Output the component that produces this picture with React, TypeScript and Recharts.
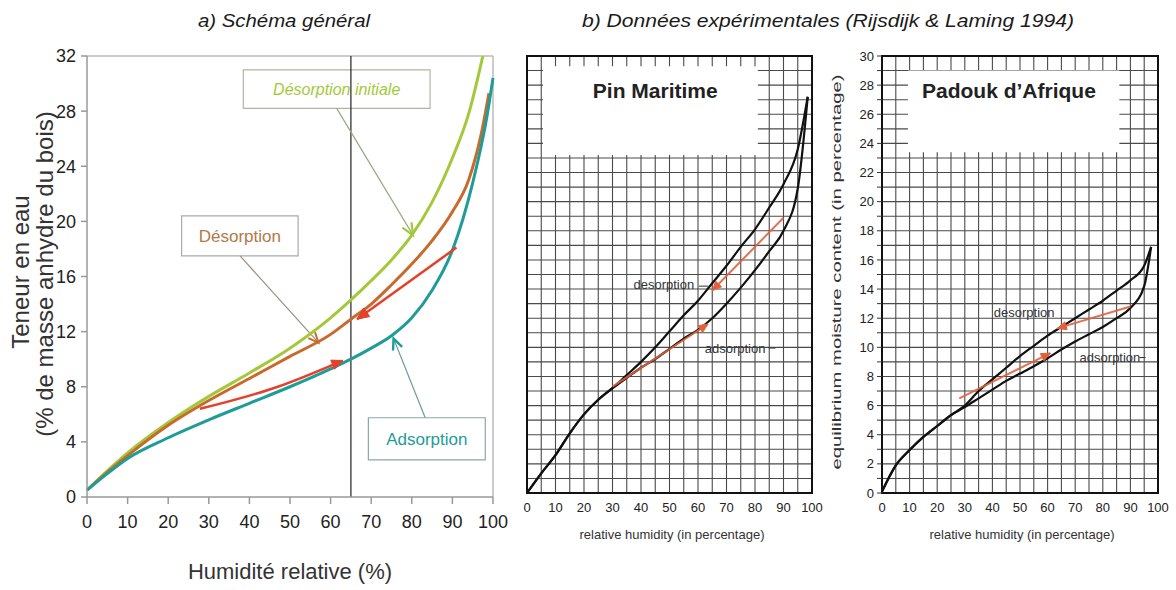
import React from 'react';
import {
  LineChart,
  Line,
  XAxis,
  YAxis,
  CartesianGrid,
  ReferenceLine,
  ReferenceArea,
  ReferenceDot,
} from 'recharts';

type Pt = { x: number; y: number };
const pts = (rows: number[][]): Pt[] => rows.map(([x, y]) => ({ x, y }));

const SANS = 'Arial, "Liberation Sans", sans-serif';
const NARROW = '"Liberation Sans Narrow", "Arial Narrow", "Liberation Sans", sans-serif';

// ---- a) Schéma général
const RH_TICKS = [0, 10, 20, 30, 40, 50, 60, 70, 80, 90, 100];
const MC_TICKS_A = [0, 4, 8, 12, 16, 20, 24, 28, 32];

const desorptionInitiale = pts([
  [0, 0.5], [5, 1.9], [10, 3.2], [20, 5.4], [30, 7.3], [40, 9.0], [50, 10.8], [60, 13.0],
  [65, 14.3], [70, 15.7], [75, 17.2], [80, 19.0], [85, 21.4], [90, 24.6], [94, 27.8], [97.5, 32],
]);
const desorption = pts([
  [0, 0.5], [5, 1.8], [10, 3.0], [20, 5.2], [30, 7.0], [40, 8.6], [50, 10.2], [60, 11.8],
  [65, 12.9], [70, 14.0], [75, 15.4], [80, 16.9], [85, 18.6], [90, 20.7], [94, 23.0], [97, 26.2], [99, 29.3],
]);
const adsorption = pts([
  [0, 0.5], [5, 1.7], [10, 2.8], [20, 4.3], [30, 5.6], [40, 6.8], [50, 8.0], [60, 9.3],
  [65, 10.0], [70, 10.8], [75, 11.7], [80, 13.0], [85, 15.0], [90, 17.9], [95, 22.8], [98.5, 27.6], [100, 30.4],
]);
const redDesorptionA = pts([[91, 18.1], [66.5, 12.9]]);
const redAdsorptionA = pts([[27.8, 6.4], [47, 8.0], [63, 9.9]]);
const pointerInitiale = pts([[61.5, 28.2], [80.3, 19.0]]);
const pointerDesorption = pts([[37.7, 17.5], [57, 11.2]]);
const pointerAdsorption = pts([[83.3, 5.75], [75.5, 11.5]]);

// ---- b) Rijsdijk & Laming 1994
const RH_GRID = [0, 5, 10, 15, 20, 25, 30, 35, 40, 45, 50, 55, 60, 65, 70, 75, 80, 85, 90, 95, 100];
const MC_GRID = Array.from({ length: 31 }, (_, i) => i);

const pinDesorption = pts([
  [0, 0], [5, 1.35], [10, 2.6], [15, 4.1], [20, 5.4], [25, 6.4], [30, 7.2], [35, 8.1], [40, 9.0],
  [45, 10.0], [50, 11.1], [55, 12.2], [60, 13.2], [65, 14.4], [70, 15.6], [75, 16.9], [80, 18.1],
  [85, 19.6], [90, 21.2], [95, 23.6], [98.5, 27.2],
]);
const pinAdsorption = pts([
  [0, 0], [5, 1.35], [10, 2.6], [15, 4.1], [20, 5.4], [25, 6.4], [30, 7.2], [35, 7.9], [40, 8.6],
  [45, 9.2], [50, 9.9], [55, 10.6], [60, 11.2], [65, 12.0], [70, 13.0], [75, 14.1], [80, 15.3],
  [85, 16.6], [90, 18.0], [95, 20.9], [98.5, 27.2],
]);
const pinRedDesorption = pts([[90, 18.9], [65, 13.9]]);
const pinRedAdsorption = pts([[30, 7.3], [63.5, 11.6]]);
const pinDashDes = pts([[60.3, 14.2], [63.6, 14.2]]);
const pinDashAds = pts([[84.8, 9.95], [87.2, 9.95]]);

const padDesorption = pts([
  [0, 0.1], [5, 1.9], [10, 2.95], [15, 3.85], [20, 4.6], [25, 5.35], [30, 6.0], [35, 7.0], [40, 7.8],
  [45, 8.6], [50, 9.4], [55, 10.1], [60, 10.8], [65, 11.4], [70, 12.0], [75, 12.6], [80, 13.2],
  [85, 13.9], [90, 14.6], [95, 15.6], [97.5, 16.9],
]);
const padAdsorption = pts([
  [0, 0.1], [5, 1.9], [10, 2.95], [15, 3.85], [20, 4.6], [25, 5.35], [30, 5.9], [35, 6.5], [40, 7.1],
  [45, 7.7], [50, 8.2], [55, 8.7], [60, 9.25], [65, 9.85], [70, 10.4], [75, 10.9], [80, 11.4],
  [85, 12.0], [90, 12.7], [95, 14.2], [97.5, 16.9],
]);
const padRedDesorption = pts([[90, 12.8], [63.5, 11.3]]);
const padRedAdsorption = pts([[28, 6.5], [61, 9.6]]);
const padDashAds = pts([[93.3, 9.3], [95.5, 9.3]]);

// arrow head drawn on the last point of a series, oriented along the last segment
function arrowHead(color: string, size: number, open: boolean, width = 2) {
  return (props: any) => {
    const { cx, cy, index, points } = props;
    if (!points || index !== points.length - 1 || index === 0) return <g key={`ah-${index}`} />;
    const p = points[index - 1];
    const a = Math.atan2(cy - p.y, cx - p.x);
    const w = 0.42;
    const x1 = cx - size * Math.cos(a - w);
    const y1 = cy - size * Math.sin(a - w);
    const x2 = cx - size * Math.cos(a + w);
    const y2 = cy - size * Math.sin(a + w);
    return open ? (
      <path key={`ah-${index}`} d={`M${x1},${y1}L${cx},${cy}L${x2},${y2}`} fill="none" stroke={color} strokeWidth={width} />
    ) : (
      <path key={`ah-${index}`} d={`M${x1},${y1}L${cx},${cy}L${x2},${y2}Z`} fill={color} stroke={color} strokeWidth={1} />
    );
  };
}

const GREEN = '#a3c93a';
const ORANGE = '#c96a2c';
const TEAL = '#1f9c98';
const RED = '#e4402a';

function SchemaGeneral() {
  return (
    <LineChart width={520} height={590} margin={{ top: 56, right: 27, bottom: 3, left: 27 }} style={{ fontFamily: SANS }}>
      <XAxis
        type="number"
        dataKey="x"
        domain={[0, 100]}
        ticks={RH_TICKS}
        interval={0}
        height={90}
        tickSize={7}
        tickMargin={11}
        tick={{ fontSize: 18, fill: '#222' }}
        axisLine={{ stroke: '#999', strokeWidth: 1.5 }}
        tickLine={{ stroke: '#999', strokeWidth: 1.5 }}
      />
      <YAxis
        type="number"
        domain={[0, 32]}
        ticks={MC_TICKS_A}
        interval={0}
        width={60}
        tickSize={6}
        tickMargin={5}
        tick={{ fontSize: 18, fill: '#222' }}
        axisLine={{ stroke: '#999', strokeWidth: 1.5 }}
        tickLine={{ stroke: '#999', strokeWidth: 1.5 }}
      />
      <ReferenceLine y={32} stroke="#bbb" strokeWidth={1.5} />
      <ReferenceLine x={100} stroke="#bbb" strokeWidth={1.5} />
      <ReferenceArea
        x1={38.5} x2={84.5} y1={28.2} y2={31}
        fill="#fff" fillOpacity={1} stroke="#b4b4a0" strokeWidth={1.2}
        label={{ value: 'Désorption initiale', position: 'center', fill: GREEN, fontSize: 16, fontStyle: 'italic' }}
      />
      <ReferenceArea
        x1={23.3} x2={52} y1={17.5} y2={20.4}
        fill="#fff" fillOpacity={1} stroke="#aaa" strokeWidth={1.2}
        label={{ value: 'Désorption', position: 'center', fill: '#b07a48', fontSize: 17 }}
      />
      <ReferenceArea
        x1={69.3} x2={98.1} y1={2.7} y2={5.75}
        fill="#fff" fillOpacity={1} stroke="#8aa8a8" strokeWidth={1.2}
        label={{ value: 'Adsorption', position: 'center', fill: TEAL, fontSize: 17 }}
      />
      <ReferenceLine x={65} stroke="#222" strokeWidth={1.2} />
      <Line data={pointerInitiale} dataKey="y" type="linear" stroke="#9aa884" strokeWidth={1.2} dot={arrowHead(GREEN, 13, true, 2.2)} activeDot={false} isAnimationActive={false} />
      <Line data={pointerDesorption} dataKey="y" type="linear" stroke="#9a8f84" strokeWidth={1.2} dot={arrowHead(ORANGE, 11, true, 2)} activeDot={false} isAnimationActive={false} />
      <Line data={pointerAdsorption} dataKey="y" type="linear" stroke="#6f9c9c" strokeWidth={1.2} dot={arrowHead(TEAL, 12, true, 2.4)} activeDot={false} isAnimationActive={false} />
      <Line data={desorptionInitiale} dataKey="y" type="monotone" stroke={GREEN} strokeWidth={3} dot={false} activeDot={false} isAnimationActive={false} />
      <Line data={desorption} dataKey="y" type="monotone" stroke={ORANGE} strokeWidth={3} dot={false} activeDot={false} isAnimationActive={false} />
      <Line data={adsorption} dataKey="y" type="monotone" stroke={TEAL} strokeWidth={3} dot={false} activeDot={false} isAnimationActive={false} />
      <Line data={redDesorptionA} dataKey="y" type="linear" stroke={RED} strokeWidth={2.5} dot={arrowHead(RED, 13, false)} activeDot={false} isAnimationActive={false} />
      <Line data={redAdsorptionA} dataKey="y" type="monotone" stroke={RED} strokeWidth={2.5} dot={arrowHead(RED, 12, false)} activeDot={false} isAnimationActive={false} />
    </LineChart>
  );
}

function Experimental({
  title,
  titleX,
  des,
  ads,
  redDes,
  redAds,
  dashes,
  desLabel,
  adsLabel,
  box,
  showY,
}: {
  title: string;
  titleX: number;
  des: Pt[];
  ads: Pt[];
  redDes: Pt[];
  redAds: Pt[];
  dashes: Pt[][];
  desLabel: Pt;
  adsLabel: Pt;
  box: { x1: number; x2: number; y1: number; y2: number };
  showY: boolean;
}) {
  const red = '#e2603c';
  return (
    <LineChart
      width={showY ? 346 : 330}
      height={590}
      margin={{ top: 56, right: 18, bottom: 7, left: showY ? 12 : 17 }}
      style={{ fontFamily: NARROW }}
    >
      <CartesianGrid stroke="#4a4a4a" strokeWidth={1.1} />
      <XAxis
        type="number"
        dataKey="x"
        domain={[0, 100]}
        ticks={RH_GRID}
        interval={0}
        tickFormatter={(v: number) => (v % 10 === 0 ? String(v) : '')}
        height={90}
        tickSize={4}
        tickMargin={6}
        tickLine={false}
        tick={{ fontSize: 13, fill: '#222' }}
        axisLine={{ stroke: '#111', strokeWidth: 2 }}
      />
      <YAxis
        type="number"
        domain={[0, 30]}
        ticks={MC_GRID}
        interval={0}
        width={showY ? 40 : 10}
        tickSize={showY ? 5 : 0}
        tickMargin={3}
        tickFormatter={(v: number) => (showY && v % 2 === 0 ? String(v) : '')}
        tick={{ fontSize: 13, fill: '#222' }}
        tickLine={showY ? { stroke: '#333' } : false}
        axisLine={{ stroke: '#111', strokeWidth: 2 }}
      />
      <ReferenceArea x1={box.x1} x2={box.x2} y1={box.y1} y2={box.y2} fill="#fff" fillOpacity={1} stroke="none" />
      <ReferenceArea x1={0} x2={100} y1={0} y2={30} fill="none" fillOpacity={0} stroke="#111" strokeWidth={2} />
      <ReferenceDot
        x={titleX} y={27.6} r={1} fill="none" stroke="none"
        label={{ value: title, position: 'center', fontSize: 21, fontWeight: 700, fill: '#222', fontFamily: SANS }}
      />
      <ReferenceDot
        x={desLabel.x} y={desLabel.y} r={1} fill="none" stroke="none"
        label={{ value: 'desorption', position: 'center', fontSize: 13, fill: '#333' }}
      />
      <ReferenceDot
        x={adsLabel.x} y={adsLabel.y} r={1} fill="none" stroke="none"
        label={{ value: 'adsorption', position: 'center', fontSize: 13, fill: '#333' }}
      />
      {dashes.map((d, i) => (
        <Line key={`dash-${i}`} data={d} dataKey="y" type="linear" stroke="#333" strokeWidth={1} dot={false} activeDot={false} isAnimationActive={false} />
      ))}
      <Line data={des} dataKey="y" type="monotone" stroke="#111" strokeWidth={2.2} dot={false} activeDot={false} isAnimationActive={false} />
      <Line data={ads} dataKey="y" type="monotone" stroke="#111" strokeWidth={2.2} dot={false} activeDot={false} isAnimationActive={false} />
      <Line data={redDes} dataKey="y" type="linear" stroke={red} strokeOpacity={0.9} strokeWidth={2} dot={arrowHead(red, 10, false)} activeDot={false} isAnimationActive={false} />
      <Line data={redAds} dataKey="y" type="linear" stroke={red} strokeOpacity={0.9} strokeWidth={2} dot={arrowHead(red, 10, false)} activeDot={false} isAnimationActive={false} />
    </LineChart>
  );
}

export default function App() {
  return (
    <div style={{ position: 'absolute', left: 0, top: 0, width: 1176, height: 590, background: '#fff', overflow: 'hidden' }}>
      <div style={{ position: 'absolute', left: 0, top: 0 }}>
        <SchemaGeneral />
      </div>
      <div style={{ position: 'absolute', left: 500, top: 0 }}>
        <Experimental
          title="Pin Maritime"
          titleX={45}
          des={pinDesorption}
          ads={pinAdsorption}
          redDes={pinRedDesorption}
          redAds={pinRedAdsorption}
          dashes={[pinDashDes, pinDashAds]}
          desLabel={{ x: 48, y: 14.3 }}
          adsLabel={{ x: 73, y: 9.95 }}
          box={{ x1: 5.6, x2: 81, y1: 23.2, y2: 29.3 }}
          showY={false}
        />
      </div>
      <div style={{ position: 'absolute', left: 830, top: 0 }}>
        <Experimental
          title="Padouk d’Afrique"
          titleX={46}
          des={padDesorption}
          ads={padAdsorption}
          redDes={padRedDesorption}
          redAds={padRedAdsorption}
          dashes={[padDashAds]}
          desLabel={{ x: 51.5, y: 12.4 }}
          adsLabel={{ x: 82.6, y: 9.3 }}
          box={{ x1: 9.4, x2: 86, y1: 23.4, y2: 29.0 }}
          showY
        />
      </div>
      <svg width={1176} height={590} style={{ position: 'absolute', left: 0, top: 0, pointerEvents: 'none' }}>
        <g fontFamily={SANS} fill="#1a1a1a" fontStyle="italic" fontSize={19} textAnchor="middle">
          <text x={284} y={22} dominantBaseline="middle" textLength={172} lengthAdjust="spacingAndGlyphs">a) Schéma général</text>
          <text x={828} y={22} dominantBaseline="middle" textLength={492} lengthAdjust="spacingAndGlyphs">b) Données expérimentales (Rijsdijk &amp; Laming 1994)</text>
        </g>
        <g fontFamily={SANS} fill="#333" fontSize={24} textAnchor="middle">
          <text transform="translate(23,272) rotate(-90)" dominantBaseline="middle">Teneur en eau</text>
          <text transform="translate(47,274) rotate(-90)" dominantBaseline="middle">(% de masse anhydre du bois)</text>
          <text x={290} y={573} fontSize={22} dominantBaseline="middle">Humidité relative (%)</text>
        </g>
        <g fontFamily={NARROW} fill="#333" fontSize={13} textAnchor="middle">
          <text x={672} y={536} dominantBaseline="middle">relative humidity (in percentage)</text>
          <text x={1022} y={536} dominantBaseline="middle">relative humidity (in percentage)</text>
          <text
            transform="translate(838,272) rotate(-90)"
            dominantBaseline="middle"
            textLength={395}
            lengthAdjust="spacingAndGlyphs"
          >
            equilibrium moisture content (in percentage)
          </text>
        </g>
      </svg>
    </div>
  );
}
